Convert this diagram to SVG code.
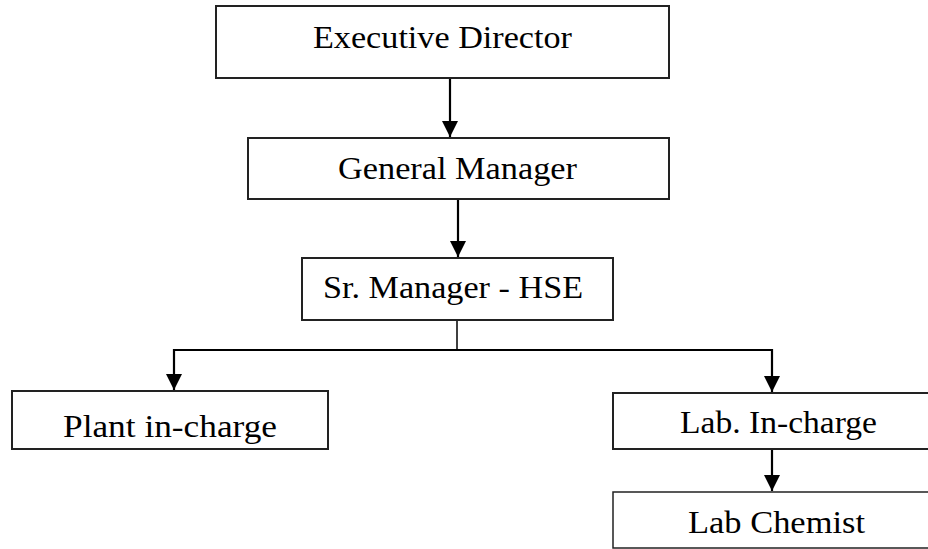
<svg xmlns="http://www.w3.org/2000/svg" width="928" height="549" viewBox="0 0 928 549">
<style>
.box{fill:#fff;stroke:#222;stroke-width:2}
.lbl{font-family:"Liberation Serif","Times New Roman",serif;font-size:31px;fill:#000}
.con{fill:none;stroke:#000;stroke-width:2.2}
</style>
<defs>
<marker id="ah" markerUnits="userSpaceOnUse" markerWidth="16" markerHeight="16" viewBox="0 0 16 16" refX="16" refY="8" orient="auto">
<path d="M0,0 L16,8 L0,16 Z" fill="#000"/>
</marker>
</defs>
<rect width="928" height="549" fill="#fff"/>
<g id="connectors">
<path class="con" d="M450,78 V137" marker-end="url(#ah)"/>
<path class="con" d="M458,199 V257" marker-end="url(#ah)"/>
<path class="con" d="M457,320 V350" style="stroke-width:1.5"/>
<path class="con" d="M457,350 H174 V390" marker-end="url(#ah)"/>
<path class="con" d="M457,350 H772 V392" marker-end="url(#ah)"/>
<path class="con" d="M772,449 V491" marker-end="url(#ah)"/>
</g>
<g id="executive-director">
<rect class="box" x="216" y="6" width="453" height="72"/>
<text class="lbl" x="313" y="48" textLength="259" lengthAdjust="spacingAndGlyphs">Executive Director</text>
</g>
<g id="general-manager">
<rect class="box" x="248" y="138" width="421" height="61"/>
<text class="lbl" x="338" y="179" textLength="239" lengthAdjust="spacingAndGlyphs">General Manager</text>
</g>
<g id="sr-manager-hse">
<rect class="box" x="302" y="258" width="311" height="62"/>
<text class="lbl" x="323" y="298" textLength="260" lengthAdjust="spacingAndGlyphs">Sr. Manager - HSE</text>
</g>
<g id="plant-in-charge">
<rect class="box" x="12" y="391" width="316" height="58"/>
<text class="lbl" x="63" y="437" textLength="214" lengthAdjust="spacingAndGlyphs">Plant in-charge</text>
</g>
<g id="lab-in-charge">
<rect class="box" x="613" y="393" width="330" height="56"/>
<text class="lbl" x="680" y="433" textLength="197" lengthAdjust="spacingAndGlyphs">Lab. In-charge</text>
</g>
<g id="lab-chemist">
<rect class="box" x="613" y="492" width="330" height="56" style="stroke-width:1.5"/>
<text class="lbl" x="688" y="533" textLength="177" lengthAdjust="spacingAndGlyphs">Lab Chemist</text>
</g>
</svg>
